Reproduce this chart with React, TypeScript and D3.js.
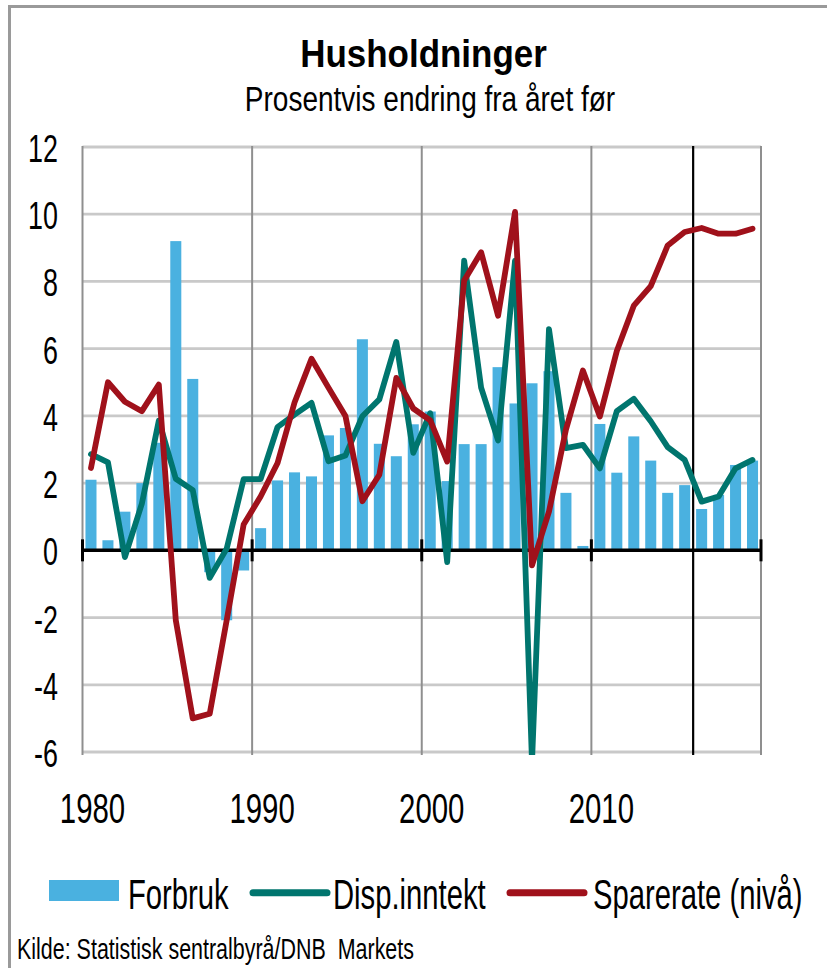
import React from "react";
import * as d3 from "d3";

const YEARS = [
  1980, 1981, 1982, 1983, 1984, 1985, 1986, 1987, 1988, 1989,
  1990, 1991, 1992, 1993, 1994, 1995, 1996, 1997, 1998, 1999,
  2000, 2001, 2002, 2003, 2004, 2005, 2006, 2007, 2008, 2009,
  2010, 2011, 2012, 2013, 2014, 2015, 2016, 2017, 2018, 2019,
];

const FORBRUK = [
  2.1, 0.3, 1.15, 2.0, 3.2, 9.2, 5.1, -0.65, -2.08, -0.6,
  0.66, 2.08, 2.32, 2.2, 3.42, 3.64, 6.28, 3.17, 2.8, 3.75,
  4.13, 2.06, 3.16, 3.16, 5.45, 4.37, 4.97, 5.33, 1.71, 0.13,
  3.76, 2.31, 3.39, 2.67, 1.71, 1.94, 1.23, 1.65, 2.54, 2.67,
];

const DISP_INNTEKT = [
  2.86, 2.62, -0.2, 1.39, 3.86, 2.13, 1.79, -0.82, 0.05, 2.12,
  2.12, 3.67, 4.04, 4.39, 2.65, 2.82, 3.99, 4.49, 6.2, 2.9,
  4.08, -0.35, 8.62, 4.84, 3.27, 8.62, -6.3, 6.58, 3.04, 3.14,
  2.44, 4.14, 4.51, 3.84, 3.07, 2.69, 1.45, 1.6, 2.44, 2.69,
];

const SPARERATE = [
  2.45, 5.0, 4.42, 4.14, 4.93, -2.08, -5.0, -4.86, -2.08, 0.77,
  1.6, 2.6, 4.4, 5.7, 4.84, 4.0, 1.46, 2.25, 5.13, 4.22,
  3.87, 2.64, 8.03, 8.87, 6.98, 10.07, -0.45, 1.15, 3.59, 5.35,
  3.98, 5.93, 7.28, 7.86, 9.07, 9.47, 9.59, 9.42, 9.42, 9.57,
];

const Y_TICKS = [12, 10, 8, 6, 4, 2, 0, -2, -4, -6];
const X_LABEL_YEARS = [1980, 1990, 2000, 2010];
const DECADE_EDGES = [1980, 1990, 2000, 2010, 2020];
const FORECAST_START = 2016;

const TITLE = "Husholdninger";
const SUBTITLE = "Prosentvis endring fra året før";
const SOURCE = "Kilde: Statistisk sentralbyrå/DNB  Markets";
const LEGEND = ["Forbruk", "Disp.inntekt", "Sparerate (nivå)"];

const BLUE = "#4ab1e0";
const GREEN = "#00756e";
const RED = "#a0111b";
const FONT = "'Liberation Sans', Arial, sans-serif";

const W = 827;
const H = 968;
const LEFT = 82.5;
const RIGHT = 761;
const TOP = 147;
const BOTTOM = 752;

function NText({ x, y, sx, size, anchor = "start", weight = "normal", children }: any) {
  return (
    <g transform={`translate(${x},${y}) scale(${sx},1)`}>
      <text x={0} y={0} fontSize={size} textAnchor={anchor} fontWeight={weight} fill="#000" style={{ whiteSpace: "pre" }}>
        {children}
      </text>
    </g>
  );
}

export default function App() {
  const x = d3
    .scaleBand<number>()
    .domain(YEARS)
    .range([LEFT, RIGHT])
    .paddingInner(0.35)
    .paddingOuter(0.175);
  const edge = d3.scaleLinear().domain([1980, 2020]).range([LEFT, RIGHT]);
  const y = d3.scaleLinear().domain([-6, 12]).range([BOTTOM, TOP]);
  const cx = (yr: number) => (x(yr) as number) + x.bandwidth() / 2;

  const line = d3
    .line<number>()
    .x((_, i) => cx(YEARS[i]))
    .y((d) => y(d));

  const y0 = y(0);

  return (
    <svg
      width={W}
      height={H}
      style={{ position: "absolute", left: 0, top: 0, background: "#fff" }}
      fontFamily={FONT}
    >
      <defs>
        <clipPath id="plotclip">
          <rect x={LEFT - 5} y={TOP - 10} width={RIGHT - LEFT + 10} height={BOTTOM - TOP + 13} />
        </clipPath>
      </defs>
      <rect x={0} y={0} width={W} height={H} fill="#fff" />
      {/* outer frame */}
      <path d={`M9.5,${H + 5} L9.5,6.5 L${W + 5},6.5`} fill="none" stroke="#9a9a9a" strokeWidth={3} />

      {/* title */}
      <NText x={423.5} y={66.7} sx={0.92} size={38} anchor="middle" weight="bold">
        {TITLE}
      </NText>
      <NText x={430} y={111} sx={0.8} size={35} anchor="middle">
        {SUBTITLE}
      </NText>

      {/* horizontal gridlines */}
      {Y_TICKS.filter((t) => t !== 0).map((t) => (
        <line key={"h" + t} x1={LEFT} x2={RIGHT} y1={y(t)} y2={y(t)} stroke="#c9c9c9" strokeWidth={2.8} />
      ))}
      {/* vertical gridlines */}
      {DECADE_EDGES.map((d) => (
        <line key={"v" + d} x1={edge(d)} x2={edge(d)} y1={TOP - 1} y2={BOTTOM + 3} stroke="#8f8f8f" strokeWidth={2} />
      ))}

      {/* bars */}
      {FORBRUK.map((v, i) => (
        <rect
          key={"b" + i}
          x={x(YEARS[i])}
          width={x.bandwidth()}
          y={Math.min(y(v), y0)}
          height={Math.abs(y(v) - y0)}
          fill={BLUE}
        />
      ))}

      {/* zero axis */}
      <line x1={LEFT} x2={RIGHT} y1={y0} y2={y0} stroke="#000" strokeWidth={3.5} />
      {DECADE_EDGES.map((d) => (
        <line key={"t" + d} x1={edge(d)} x2={edge(d)} y1={y0 - 11} y2={y0 + 11} stroke="#000" strokeWidth={3} />
      ))}

      {/* forecast divider */}
      <line x1={edge(FORECAST_START)} x2={edge(FORECAST_START)} y1={TOP - 1} y2={BOTTOM + 3} stroke="#000" strokeWidth={2.2} />

      {/* lines */}
      <g clipPath="url(#plotclip)">
        <path d={line(DISP_INNTEKT) as string} fill="none" stroke={GREEN} strokeWidth={5.8} strokeLinejoin="round" strokeLinecap="round" />
        <path d={line(SPARERATE) as string} fill="none" stroke={RED} strokeWidth={5.8} strokeLinejoin="round" strokeLinecap="round" />
      </g>

      {/* y tick labels */}
      {Y_TICKS.map((t) => (
        <NText key={"yl" + t} x={58} y={y(t) + 15} sx={0.69} size={39} anchor="end">
          {t}
        </NText>
      ))}
      {/* x tick labels */}
      {X_LABEL_YEARS.map((yr) => (
        <NText key={"xl" + yr} x={cx(yr) + 1.5} y={823} sx={0.7} size={42} anchor="middle">
          {yr}
        </NText>
      ))}

      {/* legend */}
      <rect x={49} y={880} width={70} height={21} fill={BLUE} />
      <NText x={128} y={909} sx={0.68} size={43}>
        {LEGEND[0]}
      </NText>
      <line x1={253} x2={327} y1={892.7} y2={892.7} stroke={GREEN} strokeWidth={7} strokeLinecap="round" />
      <NText x={333} y={909} sx={0.68} size={43}>
        {LEGEND[1]}
      </NText>
      <line x1={510} x2={584} y1={892.7} y2={892.7} stroke={RED} strokeWidth={7} strokeLinecap="round" />
      <NText x={593} y={909} sx={0.68} size={43}>
        {LEGEND[2]}
      </NText>

      {/* source */}
      <NText x={17} y={959} sx={0.74} size={29}>
        {SOURCE}
      </NText>
    </svg>
  );
}
